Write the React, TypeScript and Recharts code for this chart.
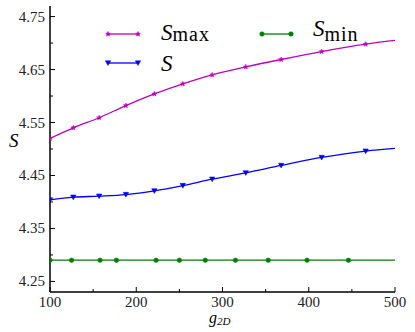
import React from 'react';
import { LineChart, Line, XAxis, YAxis } from 'recharts';

// g_2D sample positions for S_max and S (same positions)
const gValues = [100, 127, 157, 188, 221, 254, 288, 327, 368, 415, 466, 500];
const sMaxValues = [4.52, 4.54, 4.559, 4.582, 4.604, 4.623, 4.64, 4.655, 4.669, 4.684, 4.698, 4.705];
const sValues = [4.404, 4.409, 4.411, 4.414, 4.421, 4.431, 4.443, 4.455, 4.469, 4.484, 4.496, 4.501];
// S_min sample positions
const gMinValues = [100, 125, 158, 177, 223, 250, 280, 315, 353, 398, 446, 500];
const sMinValues = [4.29, 4.29, 4.29, 4.29, 4.29, 4.29, 4.29, 4.29, 4.29, 4.29, 4.29, 4.29];

const xTicks = [100, 150, 200, 250, 300, 350, 400, 450, 500];
const yTicks = [4.25, 4.3, 4.35, 4.4, 4.45, 4.5, 4.55, 4.6, 4.65, 4.7, 4.75];
const xDomain = [100, 500];
const yDomain = [4.23, 4.77];

const sMaxData = gValues.map((g, i) => ({ g, v: sMaxValues[i] }));
const sData = gValues.map((g, i) => ({ g, v: sValues[i] }));
const sMinData = gMinValues.map((g, i) => ({ g, v: sMinValues[i] }));

const MAGENTA = '#c000c0';
const BLUE = '#0000ff';
const GREEN = '#008000';
const FONT = 'Liberation Serif';

const starPath = (cx: number, cy: number, r: number) => {
  const pts: string[] = [];
  for (let k = 0; k < 10; k++) {
    const a = -Math.PI / 2 + (k * Math.PI) / 5;
    const rr = k % 2 === 0 ? r : r * 0.45;
    pts.push(`${cx + rr * Math.cos(a)},${cy + rr * Math.sin(a)}`);
  }
  return `M${pts.join('L')}Z`;
};

const StarMark = ({ cx, cy }: { cx: number; cy: number }) => (
  <path d={starPath(cx, cy, 2.6)} fill={MAGENTA} stroke={MAGENTA} strokeWidth={0.5} />
);
const TriMark = ({ cx, cy }: { cx: number; cy: number }) => (
  <path d={`M${cx - 2.7},${cy - 2.2}L${cx + 2.7},${cy - 2.2}L${cx},${cy + 2.6}Z`} fill={BLUE} stroke={BLUE} strokeWidth={0.5} />
);
const CircMark = ({ cx, cy }: { cx: number; cy: number }) => (
  <circle cx={cx} cy={cy} r={2.3} fill={GREEN} stroke={GREEN} strokeWidth={0.5} />
);

const makeDot = (Mark: any, n: number) => (p: any) => {
  if (p.index === n - 1 || p.cx == null) return <g key={`d${p.index}`} />;
  return <Mark key={`d${p.index}`} cx={p.cx} cy={p.cy} />;
};

const txt = (size: number, italic = false) => ({ fontFamily: FONT, fontSize: size, fontStyle: italic ? 'italic' : 'normal' });

const YTick = (side: 'left' | 'right') => (p: any) => {
  const major = p.index % 2 === 0;
  const len = major ? 5 : 3;
  const dir = side === 'left' ? 1 : -1;
  return (
    <g>
      <line x1={p.x} y1={p.y} x2={p.x + dir * len} y2={p.y} stroke="#000" strokeWidth={1} />
      {side === 'left' && major && (
        <text x={p.x - 5} y={p.y + 5} textAnchor="end" style={txt(15)} fill="#222">
          {Number(p.payload.value).toFixed(2)}
        </text>
      )}
    </g>
  );
};

const XTick = (side: 'top' | 'bottom') => (p: any) => {
  const major = p.index % 2 === 0;
  const len = major ? 5 : 3;
  const dir = side === 'bottom' ? -1 : 1;
  return (
    <g>
      <line x1={p.x} y1={p.y} x2={p.x} y2={p.y + dir * len} stroke="#000" strokeWidth={1} />
      {side === 'bottom' && major && (
        <text x={p.x} y={p.y + 15} textAnchor="middle" style={txt(15)} fill="#222">
          {p.payload.value}
        </text>
      )}
    </g>
  );
};

const axisLine = { stroke: '#000', strokeWidth: 1.5 };

export default function App() {
  return (
    <div style={{ position: 'absolute', left: 0, top: 0, width: 415, height: 332, background: '#fff', fontFamily: FONT }}>
      <LineChart width={415} height={332} margin={{ top: 6, right: 20, left: 0, bottom: 0 }}>
        <XAxis
          dataKey="g"
          type="number"
          domain={xDomain}
          ticks={xTicks}
          interval={0}
          height={40}
          tickSize={0}
          tickMargin={0}
          tickLine={false}
          axisLine={axisLine}
          tick={XTick('bottom')}
          allowDataOverflow
        />
        <XAxis
          xAxisId="top"
          orientation="top"
          dataKey="g"
          type="number"
          domain={xDomain}
          ticks={xTicks}
          interval={0}
          height={0}
          tickSize={0}
          tickMargin={0}
          tickLine={false}
          axisLine={axisLine}
          tick={XTick('top')}
          allowDataOverflow
        />
        <YAxis
          type="number"
          domain={yDomain}
          ticks={yTicks}
          interval={0}
          width={50}
          tickSize={0}
          tickMargin={0}
          tickLine={false}
          axisLine={axisLine}
          tick={YTick('left')}
          allowDataOverflow
        />
        <YAxis
          yAxisId="right"
          orientation="right"
          type="number"
          domain={yDomain}
          ticks={yTicks}
          interval={0}
          width={0}
          tickSize={0}
          tickMargin={0}
          tickLine={false}
          axisLine={axisLine}
          tick={YTick('right')}
          allowDataOverflow
        />
        <Line data={sMaxData} dataKey="v" type="monotone" stroke={MAGENTA} strokeWidth={1.3} dot={makeDot(StarMark, sMaxData.length)} isAnimationActive={false} />
        <Line data={sData} dataKey="v" type="monotone" stroke={BLUE} strokeWidth={1.3} dot={makeDot(TriMark, sData.length)} isAnimationActive={false} />
        <Line data={sMinData} dataKey="v" type="linear" stroke={GREEN} strokeWidth={1.3} dot={makeDot(CircMark, sMinData.length)} isAnimationActive={false} />
      </LineChart>
      <svg width={415} height={332} style={{ position: 'absolute', left: 0, top: 0, pointerEvents: 'none' }}>
        {/* legend */}
        <line x1={108} y1={34} x2={138} y2={34} stroke={MAGENTA} strokeWidth={1.3} />
        <StarMark cx={108} cy={34} />
        <StarMark cx={138} cy={34} />
        <text x={161} y={40} fill="#000" style={txt(20)}>
          <tspan style={txt(23, true)}>S</tspan>
          <tspan style={txt(20)} dy={1} letterSpacing={1}>max</tspan>
        </text>
        <line x1={108} y1={63} x2={138} y2={63} stroke={BLUE} strokeWidth={1.3} />
        <TriMark cx={108} cy={63} />
        <TriMark cx={138} cy={63} />
        <text x={161} y={71} fill="#000" style={txt(23, true)}>S</text>
        <line x1={262} y1={34} x2={291} y2={34} stroke={GREEN} strokeWidth={1.3} />
        <CircMark cx={262} cy={34} />
        <CircMark cx={291} cy={34} />
        <text x={313} y={36} fill="#000" style={txt(20)}>
          <tspan style={txt(23, true)}>S</tspan>
          <tspan style={txt(20)} dy={5} letterSpacing={1}>min</tspan>
        </text>
        {/* axis labels */}
        <text x={9} y={147} fill="#000" style={txt(19, true)}>S</text>
        <text x={209} y={323} fill="#000" style={txt(16)}>
          <tspan style={txt(16, true)}>g</tspan>
          <tspan style={txt(11, true)} dy={2}>2D</tspan>
        </text>
      </svg>
    </div>
  );
}
